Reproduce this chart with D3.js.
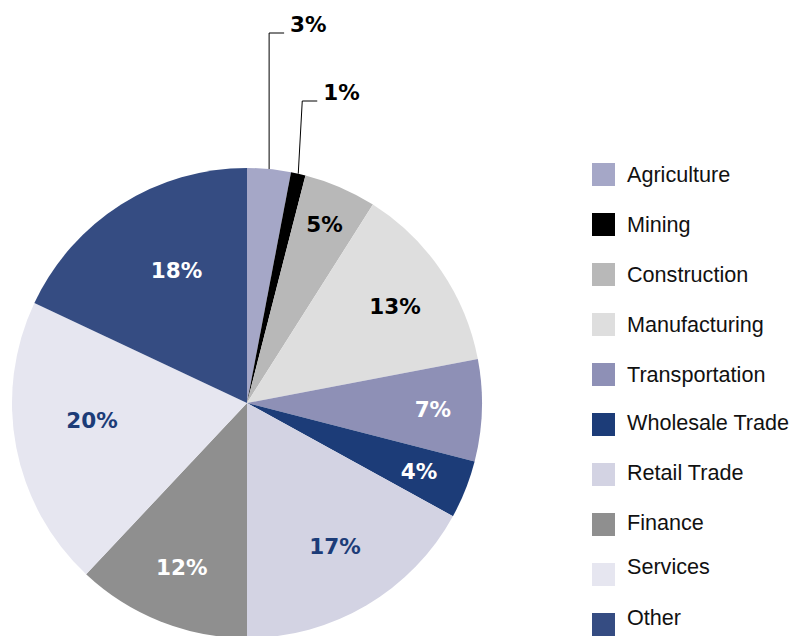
<!DOCTYPE html>
<html lang="en">
<head>
    <meta charset="UTF-8">
    <title>Industry share pie</title>
    <script src="https://d3js.org/d3.v7.min.js"></script>
    <style>
        body {
            margin: 0;
            padding: 0;
            background-color: #ffffff;
            overflow: hidden;
        }
        .pct {
            font-family: "DejaVu Sans", Verdana, sans-serif;
            font-weight: bold;
            font-size: 21.5px;
        }
        .legend-text {
            font-family: "Liberation Sans", Arial, sans-serif;
            font-size: 21.6px;
            fill: #111;
        }
    </style>
</head>
<body>
    <div id="chart"></div>

    <script>
        // data
        const categories = ["Agriculture", "Mining", "Construction", "Manufacturing", "Transportation",
            "Wholesale Trade", "Retail Trade", "Finance", "Services", "Other"];
        const shares = [3, 1, 5, 13, 7, 4, 17, 12, 20, 18];
        const sliceColors = ["#a5a7c7", "#000000", "#b8b8b8", "#dedede", "#8e90b6",
            "#1c3c78", "#d3d3e3", "#8f8f8f", "#e6e6f0", "#354c82"];
        const labelColors = ["#000", "#000", "#000", "#000", "#fff",
            "#fff", "#1c3c78", "#fff", "#1c3c78", "#fff"];

        // layout only (label placement inside the slices, callouts for the thin ones)
        const labelRadius = [null, null, 195, 177, 186, 185, 168, 177, 156, 150];
        const labelTurn = [0, 0, 0, 1, 0, 0, -1, 0, 4.5, 4.4];
        const callouts = {
            "Agriculture": { elbowY: 33, dx: 0 },
            "Mining": { elbowY: 101, dx: 4 }
        };
        const legendNudge = [0, 0, 0, 0, 0, -1.5, -1.5, -1.5, -8, -7];

        const width = 790;
        const height = 636;
        const cx = 247;
        const cy = 403;
        const radius = 235;

        const svg = d3.select("#chart")
            .append("svg")
            .attr("width", width)
            .attr("height", height);

        const g = svg.append("g")
            .attr("transform", `translate(${cx},${cy})`);

        const rows = categories.map((c, i) => ({ name: c, value: shares[i], i: i }));

        const pie = d3.pie().sort(null).value(d => d.value);
        const arcs = pie(rows);

        const arc = d3.arc().innerRadius(0).outerRadius(radius);

        g.selectAll("path.slice")
            .data(arcs)
            .join("path")
            .attr("class", "slice")
            .attr("d", arc)
            .attr("fill", d => sliceColors[d.data.i]);

        // labels inside slices
        g.selectAll("text.inside")
            .data(arcs.filter(d => labelRadius[d.data.i] !== null))
            .join("text")
            .attr("class", "pct inside")
            .attr("text-anchor", "middle")
            .attr("dy", "0.36em")
            .attr("fill", d => labelColors[d.data.i])
            .attr("transform", d => {
                const r = labelRadius[d.data.i];
                const a = (d.startAngle + d.endAngle) / 2 + labelTurn[d.data.i] * Math.PI / 180;
                return `translate(${r * Math.sin(a)},${-r * Math.cos(a)})`;
            })
            .text(d => d.data.value + "%");

        // callouts for the thin slices on top
        const outside = arcs.filter(d => callouts[d.data.name]);
        outside.forEach(d => {
            const c = callouts[d.data.name];
            const a = (d.startAngle + d.endAngle) / 2;
            const x0 = cx + radius * Math.sin(a);
            const y0 = cy - radius * Math.cos(a);
            const x1 = x0 + c.dx;
            const x2 = x1 + 15;
            svg.append("polyline")
                .attr("points", `${x0},${y0} ${x1},${c.elbowY} ${x2},${c.elbowY}`)
                .attr("fill", "none")
                .attr("stroke", "#000")
                .attr("stroke-width", 1);
            svg.append("text")
                .attr("class", "pct")
                .attr("x", x2 + 6)
                .attr("y", c.elbowY - 1)
                .attr("fill", "#000")
                .text(d.data.value + "%");
        });

        // legend
        const legend = svg.append("g")
            .attr("transform", "translate(592,163)");

        const item = legend.selectAll("g.item")
            .data(rows)
            .join("g")
            .attr("class", "item")
            .attr("transform", d => `translate(0,${d.i * 50})`);

        item.append("rect")
            .attr("width", 23)
            .attr("height", 23)
            .attr("fill", d => sliceColors[d.i]);

        item.append("text")
            .attr("class", "legend-text")
            .attr("x", 35)
            .attr("y", d => 18.5 + legendNudge[d.i])
            .text(d => d.name);
    </script>
</body>
</html>
